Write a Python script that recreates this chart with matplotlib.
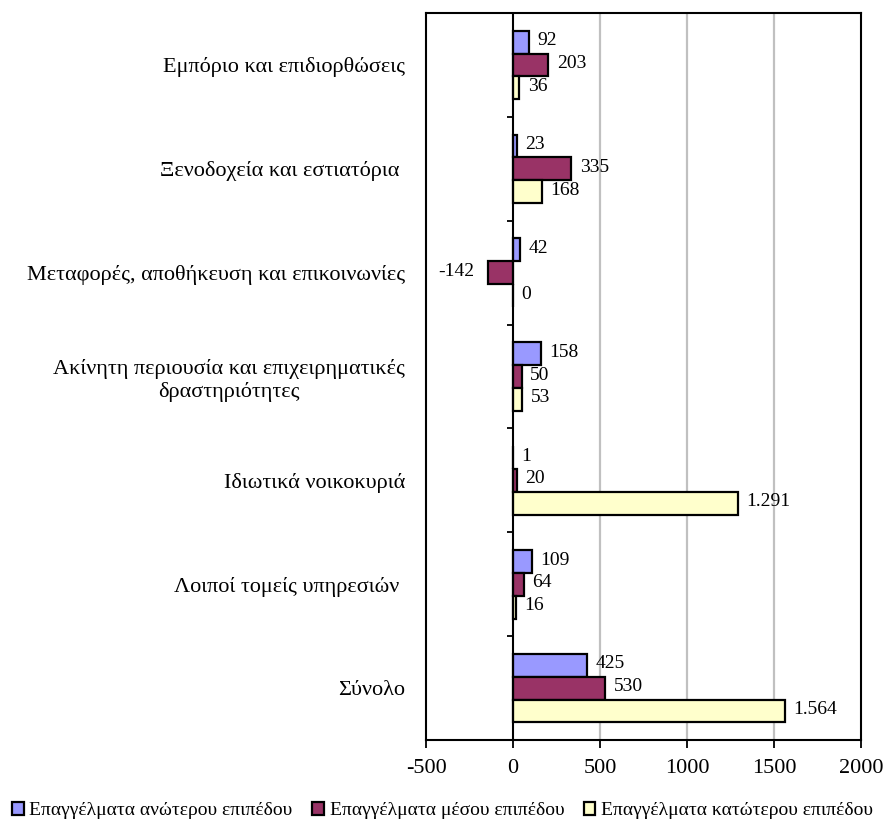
import matplotlib
matplotlib.use("Agg")
import matplotlib.pyplot as plt
import numpy as np

plt.rcParams['font.family'] = ['Liberation Serif', 'DejaVu Serif']

categories = [
    "Εμπόριο και επιδιορθώσεις",
    "Ξενοδοχεία και εστιατόρια ",
    "Μεταφορές, αποθήκευση και επικοινωνίες",
    "Ακίνητη περιουσία και επιχειρηματικές\nδραστηριότητες",
    "Ιδιωτικά νοικοκυριά",
    "Λοιποί τομείς υπηρεσιών ",
    "Σύνολο",
]
series_names = [
    "Επαγγέλματα ανώτερου επιπέδου",
    "Επαγγέλματα μέσου επιπέδου",
    "Επαγγέλματα κατώτερου επιπέδου",
]
upper = [92, 23, 42, 158, 1, 109, 425]
middle = [203, 335, -142, 50, 20, 64, 530]
lower = [36, 168, 0, 53, 1291, 16, 1564]
xticks = [-500, 0, 500, 1000, 1500, 2000]

colors = ["#9999FF", "#993366", "#FFFFCC"]


def fmt(v):
    s = f"{abs(v):,}".replace(",", ".")
    return ("-" if v < 0 else "") + s


fig = plt.figure(figsize=(8.85, 8.25), dpi=100)
ax = fig.add_axes([0.4814, 0.1030, 0.4915, 0.8812])

y = np.arange(len(categories))
h = 0.22
offsets = [-h, 0, h]
for vals, off, col, name in zip([upper, middle, lower], offsets, colors, series_names):
    ax.barh(y + off, vals, height=h, color=col, edgecolor="black",
            linewidth=1.6, label=name, zorder=3)
    for yy, v in zip(y + off, vals):
        if v < 0:
            ax.annotate(fmt(v), (v, yy), xytext=(-10, 1), textcoords="offset points",
                        ha="right", va="center", fontsize=14, zorder=4)
        else:
            ax.annotate(fmt(v), (v, yy), xytext=(6, 1), textcoords="offset points",
                        ha="left", va="center", fontsize=14, zorder=4)

ax.set_xlim(-500, 2000)
ax.set_ylim(len(categories) - 0.5, -0.5)
ax.set_xticks(xticks)
ax.set_xticklabels([str(t) for t in xticks], fontsize=16)
ax.tick_params(axis="x", direction="out", length=6, width=1.3, pad=8)

ax.set_yticks(y)
ax.set_yticklabels(categories, fontsize=16, multialignment="center")
ax.tick_params(axis="y", length=0, pad=15)

for t in xticks[2:-1]:
    ax.axvline(t, color="#C0C0C0", linewidth=1.6, zorder=1)
ax.axvline(0, color="black", linewidth=1.5, zorder=3.5)
ax.hlines(np.arange(len(categories) - 1) + 0.5, -35, 0, color="black",
          linewidth=1.3, zorder=3.5)

for sp in ax.spines.values():
    sp.set_linewidth(1.5)
    sp.set_color("black")

fig.legend(loc="lower center", bbox_to_anchor=(0.5, -0.005), ncol=3, frameon=False,
           fontsize=14, handlelength=0.6, handleheight=0.6, handletextpad=0.3,
           columnspacing=1.0, borderaxespad=0.1)

fig.savefig("out.png", dpi=100)
